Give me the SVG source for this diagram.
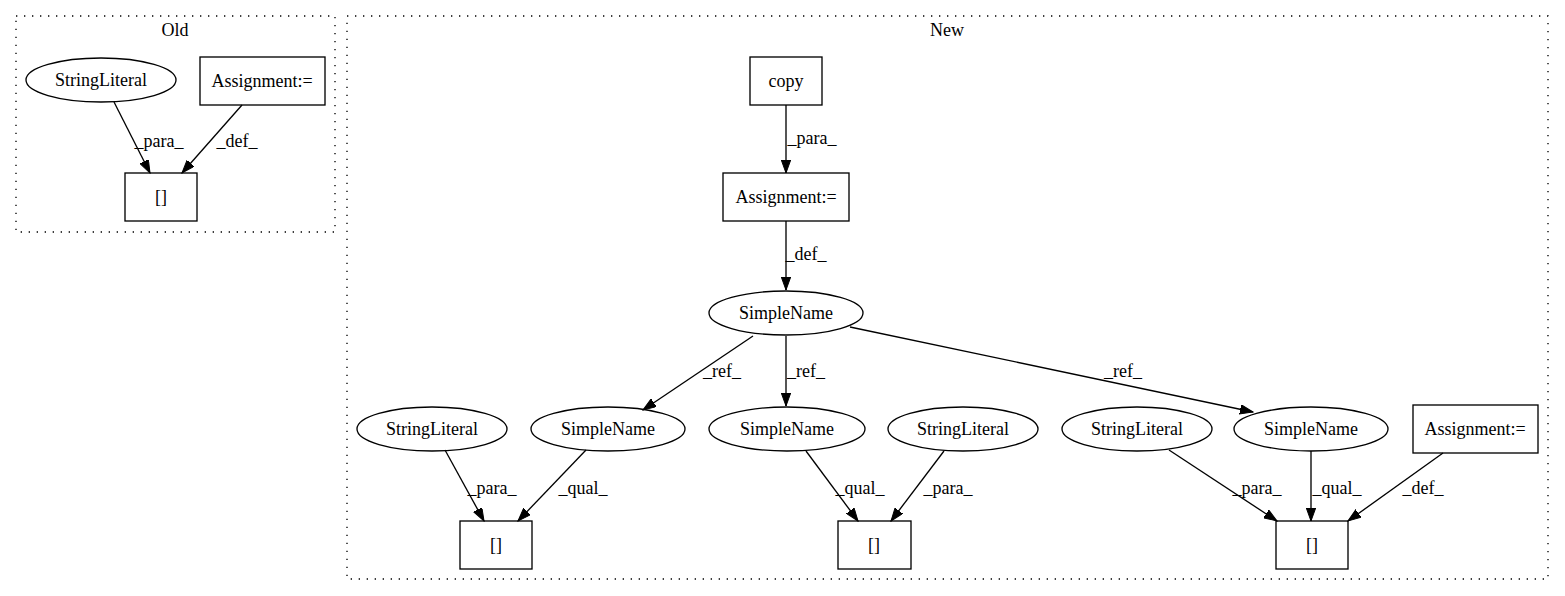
<svg xmlns="http://www.w3.org/2000/svg" width="1565" height="596" viewBox="0 0 1565 596">
<style>
text{font-family:"Liberation Serif","Times New Roman",Times,serif;font-size:18px;fill:#000;text-anchor:middle}
.n{fill:none;stroke:#000;stroke-width:1.33}
.c{fill:none;stroke:#000;stroke-width:1.33;stroke-dasharray:1.33,6.67}
.e{fill:none;stroke:#000;stroke-width:1.33;marker-end:url(#ah)}
</style>
<defs>
<marker id="ah" markerUnits="userSpaceOnUse" markerWidth="14" markerHeight="10" refX="13" refY="4.7" orient="auto">
<path d="M0,0 L13,4.7 L0,9.4 z" fill="#000" stroke="#000" stroke-width="1"/>
</marker>
</defs>
<rect width="1565" height="596" fill="#fff"/>
<g id="cluster_old">
<rect class="c" x="16" y="16" width="319" height="216"/>
<text x="175" y="36">Old</text>
</g>
<g id="cluster_new">
<rect class="c" x="347" y="16" width="1201" height="563"/>
<text x="947" y="36">New</text>
</g>
<g id="connectors">
<line class="e" x1="114" y1="102" x2="150" y2="173"/>
<text x="159" y="147">_para_</text>
<line class="e" x1="242" y1="105" x2="182" y2="173"/>
<text x="237" y="147">_def_</text>
<line class="e" x1="786" y1="105" x2="786" y2="173"/>
<text x="812" y="144">_para_</text>
<line class="e" x1="786" y1="221" x2="786" y2="290"/>
<text x="806" y="260">_def_</text>
<line class="e" x1="753" y1="336" x2="643" y2="410"/>
<text x="722" y="377">_ref_</text>
<line class="e" x1="786" y1="336" x2="786" y2="406"/>
<text x="806" y="377">_ref_</text>
<line class="e" x1="850" y1="327" x2="1253" y2="412"/>
<text x="1123" y="377">_ref_</text>
<line class="e" x1="445" y1="450" x2="484" y2="521"/>
<text x="492" y="494">_para_</text>
<line class="e" x1="586" y1="450" x2="518" y2="521"/>
<text x="583" y="494">_qual_</text>
<line class="e" x1="806" y1="451" x2="858" y2="521"/>
<text x="860" y="494">_qual_</text>
<line class="e" x1="944" y1="451" x2="891" y2="521"/>
<text x="948" y="494">_para_</text>
<line class="e" x1="1169" y1="450" x2="1277" y2="521"/>
<text x="1257" y="494">_para_</text>
<line class="e" x1="1311" y1="451" x2="1311" y2="521"/>
<text x="1337" y="494">_qual_</text>
<line class="e" x1="1443" y1="453" x2="1348" y2="521"/>
<text x="1423" y="494">_def_</text>
</g>
<g id="old_stringliteral">
<ellipse class="n" cx="101" cy="80" rx="75" ry="22"/>
<text x="101" y="86">StringLiteral</text>
</g>
<g id="old_assignment">
<rect class="n" x="200" y="57" width="125" height="48"/>
<text x="262" y="87">Assignment:=</text>
</g>
<g id="old_index">
<rect class="n" x="125" y="173" width="72" height="48"/>
<text x="161" y="203">[]</text>
</g>
<g id="new_copy">
<rect class="n" x="750" y="57" width="72" height="48"/>
<text x="786" y="87">copy</text>
</g>
<g id="new_assignment">
<rect class="n" x="723" y="173" width="126" height="48"/>
<text x="786" y="203">Assignment:=</text>
</g>
<g id="new_simplename_top">
<ellipse class="n" cx="786" cy="313" rx="77" ry="22"/>
<text x="786" y="319">SimpleName</text>
</g>
<g id="new_stringliteral_1">
<ellipse class="n" cx="432" cy="429" rx="75" ry="22"/>
<text x="432" y="435">StringLiteral</text>
</g>
<g id="new_simplename_1">
<ellipse class="n" cx="608" cy="429" rx="77" ry="22"/>
<text x="608" y="435">SimpleName</text>
</g>
<g id="new_simplename_2">
<ellipse class="n" cx="787" cy="429" rx="78" ry="22"/>
<text x="787" y="435">SimpleName</text>
</g>
<g id="new_stringliteral_2">
<ellipse class="n" cx="963" cy="429" rx="75" ry="22"/>
<text x="963" y="435">StringLiteral</text>
</g>
<g id="new_stringliteral_3">
<ellipse class="n" cx="1137" cy="429" rx="75" ry="22"/>
<text x="1137" y="435">StringLiteral</text>
</g>
<g id="new_simplename_3">
<ellipse class="n" cx="1311" cy="429" rx="77" ry="22"/>
<text x="1311" y="435">SimpleName</text>
</g>
<g id="new_assignment_2">
<rect class="n" x="1413" y="405" width="125" height="48"/>
<text x="1475" y="435">Assignment:=</text>
</g>
<g id="new_index_1">
<rect class="n" x="460" y="521" width="72" height="48"/>
<text x="496" y="551">[]</text>
</g>
<g id="new_index_2">
<rect class="n" x="838" y="521" width="73" height="48"/>
<text x="874" y="551">[]</text>
</g>
<g id="new_index_3">
<rect class="n" x="1276" y="521" width="72" height="48"/>
<text x="1312" y="551">[]</text>
</g>
</svg>
